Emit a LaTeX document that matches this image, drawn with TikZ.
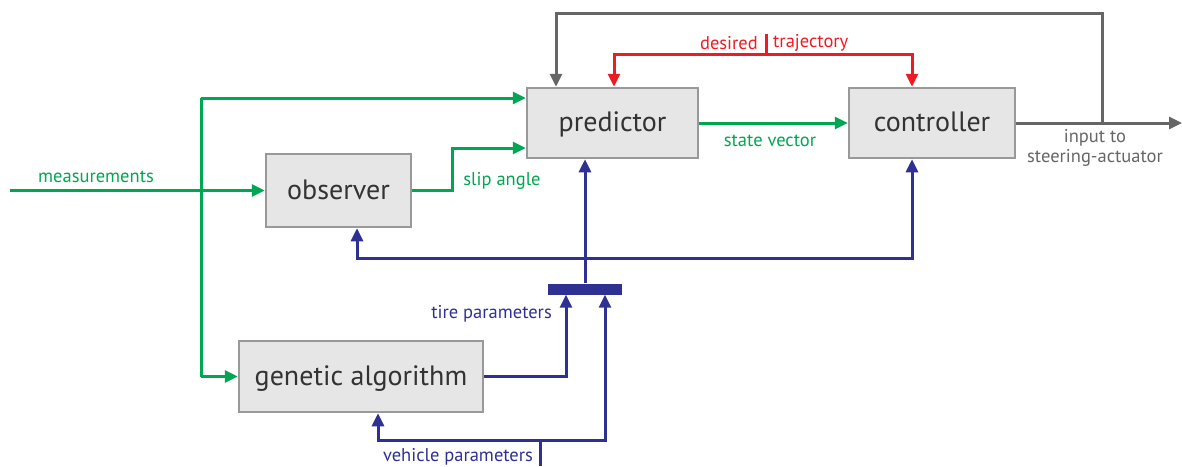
\documentclass[tikz,border=0pt]{standalone}
\usepackage{fontspec}
\setmainfont{PT Sans}
\usetikzlibrary{arrows.meta}
\definecolor{grn}{HTML}{00A651}
\definecolor{rd}{HTML}{ED1C24}
\definecolor{blu}{HTML}{2E3192}
\definecolor{gry}{HTML}{666666}
\definecolor{boxfill}{HTML}{E6E6E6}
\definecolor{boxline}{HTML}{999999}
\definecolor{txt}{HTML}{333333}
\begin{document}
\begin{tikzpicture}[x=1pt,y=-1pt,
 box/.style={draw=boxline, fill=boxfill, line width=2.5pt, text=txt, font=\fontsize{28}{32}\selectfont, inner sep=0pt, text height=20pt, text depth=3pt},
 conn/.style={line width=3pt, -{Triangle[length=13pt,width=12pt]}},
 conntwo/.style={line width=3pt, {Triangle[length=13pt,width=12pt]}-{Triangle[length=13pt,width=12pt]}},
 plain/.style={line width=3pt},
 lbl/.style={font=\fontsize{18.5}{20}\selectfont, inner sep=0pt}
]
\useasboundingbox (0,0) rectangle (1182,466);
% boxes
\node[box, minimum width=171pt, minimum height=70pt] (pred) at (612.5,123) {predictor};
\node[box, minimum width=166pt, minimum height=70pt] (ctrl) at (932,123) {controller};
\node[box, minimum width=145pt, minimum height=73pt] (obs) at (338.5,190.5) {observer};
\node[box, minimum width=244pt, minimum height=71pt] (ga) at (361,376.5) {genetic algorithm};
\node[fill=blu, minimum width=74pt, minimum height=11pt, inner sep=0pt] (bus) at (585,289) {};
% coordinates
\coordinate (min) at (10,190.5);
\coordinate (mtop) at (201,98);
\coordinate (mbot) at (201,376.5);
\coordinate (sl) at (452,148);
\coordinate (outend) at (1182,123);
\coordinate (fb) at (1102,123);
\coordinate (pfb) at (556,13);
\coordinate (dt) at (766,54);
\coordinate (dtop) at (766,34);
\coordinate (rl) at (614,54);
\coordinate (rr) at (912,54);
\coordinate (bl) at (357,258);
\coordinate (br) at (912,258);
\coordinate (tp) at (566,377);
\coordinate (vin) at (540,466);
\coordinate (vj) at (540,440);
\coordinate (vl) at (378,440);
\coordinate (vr) at (605,440);
% green
\draw[conn,grn] (min) -- (obs.west);
\draw[plain,grn] (mtop) -- (mbot);
\draw[conn,grn] (mtop) -- (mtop -| pred.west);
\draw[conn,grn] (mbot) -- (ga.west);
\draw[conn,grn] (obs.east) -| (sl) -- (sl -| pred.west);
\draw[conn,grn] (pred) -- (ctrl);
% gray
\draw[conn,gry] (ctrl.east) -- (outend);
\draw[conn,gry] (fb) |- (pfb) -- (pfb |- pred.north);
% red
\draw[plain,rd] (dtop) -- (dt);
\draw[conn,rd] (dt) -- (rl) -- (rl |- pred.north);
\draw[conn,rd] (dt) -- (rr) -- (rr |- ctrl.north);
% blue
\draw[conn,blu] (bus.north) -- (bus.north |- pred.south);
\draw[conntwo,blu] (bl |- obs.south) -- (bl) -- (br) -- (br |- ctrl.south);
\draw[conn,blu] (ga.east) -| (tp |- bus.south);
\draw[plain,blu] (vin) -- (vj);
\draw[conntwo,blu] (vl |- ga.south) -- (vl) -- (vr) -- (vr |- bus.south);
% labels
\node[lbl, text=grn] (lmeas) at (96,177) {measurements};
\node[lbl, text=grn] (lslip) at (502,181) {slip angle};
\node[lbl, text=grn] (lstate) at (770,141) {state vector};
\node[lbl, text=rd, anchor=east] (ldes) at (758,43) {desired};
\node[lbl, text=rd, anchor=west] (ltraj) at (773,43) {trajectory};
\node[lbl, text=gry, align=center] (lout) at (1095,148) {input to\\steering-actuator};
\node[lbl, text=blu, anchor=east] (ltire) at (552,314) {tire parameters};
\node[lbl, text=blu] (lveh) at (458,457) {vehicle parameters};
\end{tikzpicture}
\end{document}
